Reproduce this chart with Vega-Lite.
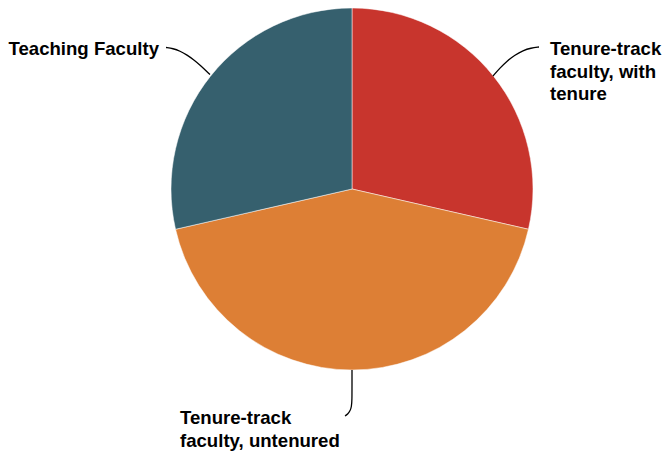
{
  "$schema": "https://vega.github.io/schema/vega-lite/v6.json",
  "width": 664,
  "height": 454,
  "autosize": {"type": "fit", "contains": "padding"},
  "padding": 0,
  "background": "white",
  "config": {"view": {"stroke": null}},
  "datasets": {
    "slices": [
      {"cat": "Tenure-track faculty, with tenure", "value": 2, "idx": 1, "cx": 0, "cy": 0},
      {"cat": "Tenure-track faculty, untenured", "value": 3, "idx": 2, "cx": 0, "cy": 0},
      {"cat": "Teaching Faculty", "value": 2, "idx": 3, "cx": 0, "cy": 0}
    ],
    "leaders": [
      {"s": "teal", "o": 1, "lx": -142, "ly": 114.5},
      {"s": "teal", "o": 2, "lx": -152, "ly": 124},
      {"s": "teal", "o": 3, "lx": -158, "ly": 129},
      {"s": "teal", "o": 4, "lx": -165, "ly": 134},
      {"s": "teal", "o": 5, "lx": -172, "ly": 138},
      {"s": "teal", "o": 6, "lx": -179, "ly": 140.5},
      {"s": "teal", "o": 7, "lx": -186, "ly": 141.5},
      {"s": "red", "o": 1, "lx": 141, "ly": 113},
      {"s": "red", "o": 2, "lx": 148, "ly": 121},
      {"s": "red", "o": 3, "lx": 155, "ly": 128},
      {"s": "red", "o": 4, "lx": 163, "ly": 134},
      {"s": "red", "o": 5, "lx": 171, "ly": 138.5},
      {"s": "red", "o": 6, "lx": 179, "ly": 141},
      {"s": "red", "o": 7, "lx": 187, "ly": 142},
      {"s": "orange", "o": 1, "lx": 0, "ly": -181},
      {"s": "orange", "o": 2, "lx": 0, "ly": -196},
      {"s": "orange", "o": 3, "lx": 0, "ly": -211},
      {"s": "orange", "o": 4, "lx": -0.5, "ly": -218},
      {"s": "orange", "o": 5, "lx": -2, "ly": -222},
      {"s": "orange", "o": 6, "lx": -4, "ly": -225},
      {"s": "orange", "o": 7, "lx": -7, "ly": -227}
    ],
    "labels": [
      {"label": "Teaching Faculty", "tx": -193, "ty": 134, "al": "right"},
      {"label": "Tenure-track\nfaculty, with\ntenure", "tx": 198, "ty": 134, "al": "left"},
      {"label": "Tenure-track\nfaculty, untenured", "tx": -172, "ty": -235, "al": "left"}
    ]
  },
  "layer": [
    {
      "data": {"name": "slices"},
      "mark": {"type": "arc", "outerRadius": 181, "stroke": "#ffffff", "strokeWidth": 0.5},
      "encoding": {
        "theta": {"field": "value", "type": "quantitative", "stack": true},
        "order": {"field": "idx", "type": "quantitative"},
        "color": {
          "field": "cat", "type": "nominal", "legend": null,
          "scale": {
            "domain": ["Tenure-track faculty, with tenure", "Tenure-track faculty, untenured", "Teaching Faculty"],
            "range": ["#C8352D", "#DD7F35", "#36606E"]
          }
        },
        "x": {"field": "cx", "type": "quantitative", "axis": null, "scale": {"domain": [-352, 312], "nice": false, "zero": false}},
        "y": {"field": "cy", "type": "quantitative", "axis": null, "scale": {"domain": [-265, 189], "nice": false, "zero": false}}
      }
    },
    {
      "data": {"name": "leaders"},
      "mark": {"type": "line", "color": "#000000", "strokeWidth": 1.3, "interpolate": "basis"},
      "encoding": {
        "x": {"field": "lx", "type": "quantitative"},
        "y": {"field": "ly", "type": "quantitative"},
        "detail": {"field": "s", "type": "nominal"},
        "order": {"field": "o", "type": "quantitative"}
      }
    },
    {
      "data": {"name": "labels"},
      "transform": [{"filter": "datum.al === 'right'"}],
      "mark": {"type": "text", "align": "right", "baseline": "alphabetic", "font": "Liberation Sans", "fontWeight": "bold", "fontSize": 18.6, "color": "#000000", "lineBreak": "\n", "lineHeight": 22.5},
      "encoding": {
        "x": {"field": "tx", "type": "quantitative"},
        "y": {"field": "ty", "type": "quantitative"},
        "text": {"field": "label"}
      }
    },
    {
      "data": {"name": "labels"},
      "transform": [{"filter": "datum.al === 'left'"}],
      "mark": {"type": "text", "align": "left", "baseline": "alphabetic", "font": "Liberation Sans", "fontWeight": "bold", "fontSize": 18.6, "color": "#000000", "lineBreak": "\n", "lineHeight": 22.5},
      "encoding": {
        "x": {"field": "tx", "type": "quantitative"},
        "y": {"field": "ty", "type": "quantitative"},
        "text": {"field": "label"}
      }
    }
  ]
}
